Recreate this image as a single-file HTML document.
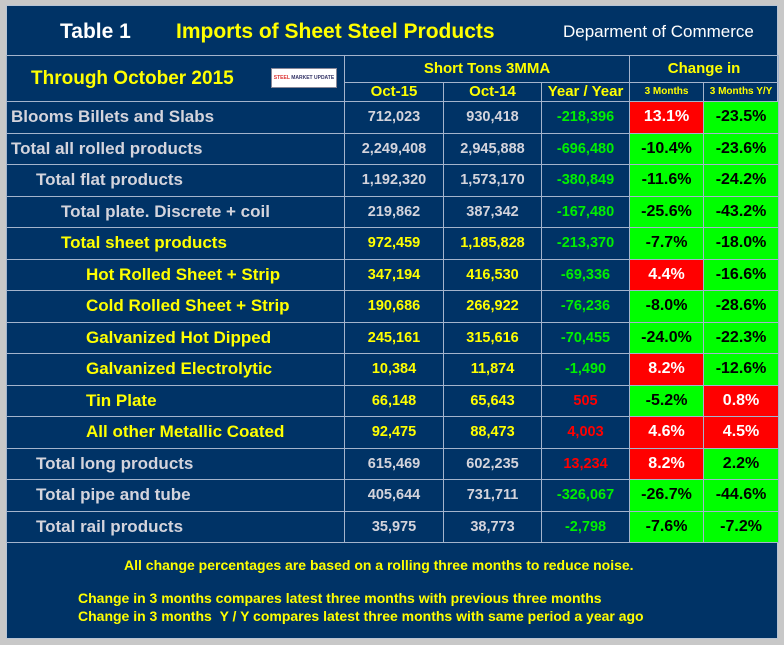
<!DOCTYPE html>
<html><head><meta charset="utf-8"><style>
body{margin:0;width:784px;height:645px;background:#c8c8c8;font-family:"Liberation Sans",Arial,sans-serif;font-weight:bold;position:relative;overflow:hidden}
#p{position:absolute;left:6px;top:5px;width:772px;height:634px;background:#003366;border:1px solid #b8c4d4;box-sizing:border-box}
.a{position:absolute;white-space:nowrap}
table{position:absolute;left:6px;top:55px;border-collapse:collapse;table-layout:fixed;width:772px}
td{border:1.5px solid #a4b4cc;padding:0;text-align:center;font-size:14.5px;color:#d4d4dc;line-height:16px;overflow:hidden}
tr.d td{height:30.5px}
td.l{text-align:left;font-size:17px}
.y{color:#ffff00}.g{color:#00f000}.r{color:#ff0000}
.R{background:#ff0000;color:#fff;font-size:16px}.G{background:#00ff00;color:#000;font-size:16px}
tr.h td{color:#ffff00}
</style></head><body>
<div id="p"></div>
<div class="a" style="left:60px;top:20px;font-size:21px;color:#fff">Table 1</div>
<div class="a" style="left:176px;top:20px;font-size:21px;color:#ffff00">Imports of Sheet Steel Products</div>
<div class="a" style="left:563px;top:22px;font-size:17px;color:#fff;font-weight:normal">Deparment of Commerce</div>
<table>
<colgroup><col style="width:338px"><col style="width:99px"><col style="width:98px"><col style="width:88px"><col style="width:74px"><col style="width:75px"></colgroup>
<tr class="h" style="height:27px"><td rowspan="2" class="l" style="color:#ffff00;font-size:19px;padding-left:24px;position:relative">Through October 2015<span style="position:absolute;left:264px;top:12px;width:64px;height:18px;background:#fff;border:1px solid #889;font-size:5px;color:#336;line-height:18px;text-align:center"><span style="color:#d33">STEEL</span> MARKET UPDATE</span></td><td colspan="3" style="height:25px;font-size:15px">Short Tons 3MMA</td><td colspan="2" style="font-size:15px">Change in</td></tr>
<tr class="h" style="height:19px"><td style="height:17px;font-size:15px">Oct-15</td><td style="font-size:15px">Oct-14</td><td style="font-size:15px">Year / Year</td><td style="font-size:10px">3 Months</td><td style="font-size:10px">3 Months Y/Y</td></tr>
<tr class="d"><td class="l" style="padding-left:4px">Blooms Billets and Slabs</td><td>712,023</td><td>930,418</td><td class="g">-218,396</td><td class="R">13.1%</td><td class="G">-23.5%</td></tr>
<tr class="d"><td class="l" style="padding-left:4px">Total all rolled products</td><td>2,249,408</td><td>2,945,888</td><td class="g">-696,480</td><td class="G">-10.4%</td><td class="G">-23.6%</td></tr>
<tr class="d"><td class="l" style="padding-left:29px">Total flat products</td><td>1,192,320</td><td>1,573,170</td><td class="g">-380,849</td><td class="G">-11.6%</td><td class="G">-24.2%</td></tr>
<tr class="d"><td class="l" style="padding-left:54px">Total plate. Discrete + coil</td><td>219,862</td><td>387,342</td><td class="g">-167,480</td><td class="G">-25.6%</td><td class="G">-43.2%</td></tr>
<tr class="d"><td class="l y" style="padding-left:54px">Total sheet products</td><td class="y">972,459</td><td class="y">1,185,828</td><td class="g">-213,370</td><td class="G">-7.7%</td><td class="G">-18.0%</td></tr>
<tr class="d"><td class="l y" style="padding-left:79px">Hot Rolled Sheet + Strip</td><td class="y">347,194</td><td class="y">416,530</td><td class="g">-69,336</td><td class="R">4.4%</td><td class="G">-16.6%</td></tr>
<tr class="d"><td class="l y" style="padding-left:79px">Cold Rolled Sheet + Strip</td><td class="y">190,686</td><td class="y">266,922</td><td class="g">-76,236</td><td class="G">-8.0%</td><td class="G">-28.6%</td></tr>
<tr class="d"><td class="l y" style="padding-left:79px">Galvanized Hot Dipped</td><td class="y">245,161</td><td class="y">315,616</td><td class="g">-70,455</td><td class="G">-24.0%</td><td class="G">-22.3%</td></tr>
<tr class="d"><td class="l y" style="padding-left:79px">Galvanized Electrolytic</td><td class="y">10,384</td><td class="y">11,874</td><td class="g">-1,490</td><td class="R">8.2%</td><td class="G">-12.6%</td></tr>
<tr class="d"><td class="l y" style="padding-left:79px">Tin Plate</td><td class="y">66,148</td><td class="y">65,643</td><td class="r">505</td><td class="G">-5.2%</td><td class="R">0.8%</td></tr>
<tr class="d"><td class="l y" style="padding-left:79px">All other Metallic Coated</td><td class="y">92,475</td><td class="y">88,473</td><td class="r">4,003</td><td class="R">4.6%</td><td class="R">4.5%</td></tr>
<tr class="d"><td class="l" style="padding-left:29px">Total long products</td><td>615,469</td><td>602,235</td><td class="r">13,234</td><td class="R">8.2%</td><td class="G">2.2%</td></tr>
<tr class="d"><td class="l" style="padding-left:29px">Total pipe and tube</td><td>405,644</td><td>731,711</td><td class="g">-326,067</td><td class="G">-26.7%</td><td class="G">-44.6%</td></tr>
<tr class="d"><td class="l" style="padding-left:29px">Total rail products</td><td>35,975</td><td>38,773</td><td class="g">-2,798</td><td class="G">-7.6%</td><td class="G">-7.2%</td></tr>
</table>
<div class="a" style="left:124px;top:557px;font-size:14px;color:#ffff00">All change percentages are based on a rolling three months to reduce noise.</div>
<div class="a" style="left:78px;top:590px;font-size:14px;color:#ffff00">Change in 3 months compares latest three months with previous three months</div>
<div class="a" style="left:78px;top:608px;font-size:14px;color:#ffff00">Change in 3 months &nbsp;Y / Y compares latest three months with same period a year ago</div>
</body></html>
